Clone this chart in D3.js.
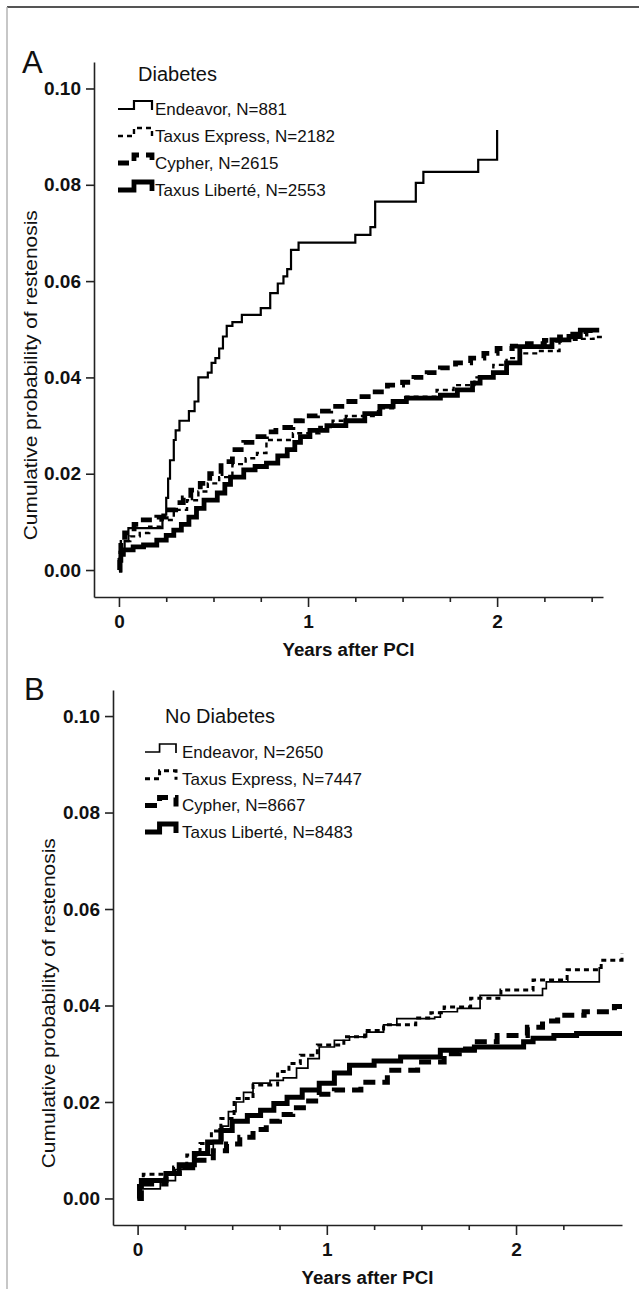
<!DOCTYPE html>
<html><head><meta charset="utf-8">
<script src="https://cdn.jsdelivr.net/npm/d3@7"></script>
<style>body{margin:0;background:#fff}svg{display:block}</style>
</head><body>
<script>
// ---------- DATA ----------
const seriesNames = ["Endeavor", "Taxus Express", "Cypher", "Taxus Liberté"];
const panelTitles = ["Diabetes", "No Diabetes"];
const panelLetters = ["A", "B"];
const nDiabetes = [881, 2182, 2615, 2553];
const nNoDiabetes = [2650, 7447, 8667, 8483];
const yTicks = [0, 0.02, 0.04, 0.06, 0.08, 0.10];
const xMajorTicks = [0, 1, 2];
const xMinorTicksA = [0.25, 0.5, 0.75, 1.25, 1.5, 1.75, 2.25, 2.5];
const xMinorTicksB = [0.25, 0.5, 0.75, 1.25, 1.5, 1.75, 2.25];
const xTitle = "Years after PCI";
const yTitle = "Cumulative probability of restenosis";

// Panel A (Diabetes): [years, cumulative probability]
const endeavorA = [[0,0],[0.01,0.003],[0.03,0.006],[0.05,0.0087],[0.23,0.0115],[0.25,0.015],[0.26,0.019],[0.27,0.0228],[0.29,0.027],[0.30,0.029],[0.32,0.031],[0.37,0.033],[0.40,0.035],[0.42,0.040],[0.47,0.041],[0.49,0.043],[0.51,0.044],[0.53,0.046],[0.55,0.0485],[0.57,0.0507],[0.60,0.0515],[0.65,0.053],[0.75,0.0544],[0.80,0.0575],[0.84,0.0595],[0.87,0.061],[0.89,0.0625],[0.91,0.0665],[0.95,0.068],[1.25,0.0696],[1.33,0.0712],[1.355,0.0765],[1.57,0.0804],[1.61,0.0827],[1.90,0.0852],[2.0,0.0914]];
const taxusExpressA = [[0,0],[0.005,0.003],[0.01,0.006],[0.06,0.007],[0.11,0.0077],[0.16,0.009],[0.22,0.0104],[0.29,0.0125],[0.36,0.0145],[0.42,0.0163],[0.47,0.018],[0.53,0.0193],[0.60,0.022],[0.67,0.0232],[0.73,0.0243],[0.78,0.027],[0.92,0.0284],[1.06,0.0297],[1.13,0.031],[1.20,0.032],[1.37,0.0336],[1.45,0.035],[1.52,0.036],[1.68,0.0374],[1.77,0.0384],[1.88,0.040],[1.98,0.0426],[2.05,0.044],[2.12,0.045],[2.22,0.0455],[2.33,0.0478],[2.42,0.048],[2.51,0.0484],[2.56,0.0486]];
const cypherA = [[0,0],[0.005,0.003],[0.01,0.006],[0.03,0.0077],[0.08,0.0095],[0.11,0.0104],[0.20,0.011],[0.25,0.0125],[0.30,0.014],[0.34,0.015],[0.38,0.0166],[0.43,0.018],[0.48,0.020],[0.54,0.0225],[0.60,0.025],[0.66,0.0265],[0.72,0.0277],[0.78,0.0287],[0.83,0.0296],[0.92,0.031],[0.97,0.032],[1.05,0.033],[1.12,0.034],[1.20,0.035],[1.27,0.036],[1.34,0.037],[1.42,0.0384],[1.50,0.039],[1.56,0.040],[1.63,0.041],[1.70,0.042],[1.78,0.043],[1.86,0.044],[1.93,0.045],[2.0,0.046],[2.08,0.0465],[2.16,0.047],[2.25,0.0477],[2.33,0.0484],[2.40,0.049],[2.47,0.0497],[2.54,0.0497]];
const libertéA = [[0,0],[0.005,0.002],[0.01,0.0035],[0.02,0.0042],[0.075,0.0048],[0.13,0.0052],[0.20,0.0062],[0.25,0.0072],[0.29,0.0083],[0.33,0.0095],[0.37,0.011],[0.41,0.0128],[0.45,0.0145],[0.52,0.016],[0.56,0.0178],[0.59,0.0193],[0.66,0.0208],[0.72,0.0215],[0.78,0.0222],[0.84,0.0237],[0.89,0.025],[0.93,0.0265],[0.96,0.0277],[1.01,0.029],[1.10,0.030],[1.20,0.031],[1.30,0.0325],[1.38,0.034],[1.45,0.035],[1.52,0.0357],[1.70,0.0363],[1.79,0.0374],[1.87,0.0388],[1.91,0.040],[1.98,0.041],[2.05,0.043],[2.12,0.0464],[2.26,0.0464],[2.29,0.0478],[2.38,0.0485],[2.44,0.0498],[2.54,0.0498]];

// Panel B (No Diabetes)
const endeavorB = [[0,0],[0.02,0.002],[0.12,0.0037],[0.20,0.006],[0.30,0.009],[0.40,0.012],[0.45,0.015],[0.48,0.018],[0.52,0.020],[0.56,0.022],[0.61,0.0239],[0.70,0.0245],[0.77,0.025],[0.84,0.027],[0.90,0.029],[0.96,0.0314],[1.04,0.0328],[1.12,0.0335],[1.21,0.0345],[1.30,0.036],[1.37,0.0373],[1.57,0.0376],[1.60,0.0387],[1.69,0.0394],[1.81,0.0421],[2.12,0.0421],[2.14,0.0435],[2.16,0.0449],[2.44,0.048]];
const taxusExpressB = [[0,0],[0.01,0.003],[0.03,0.005],[0.19,0.0065],[0.26,0.009],[0.33,0.0114],[0.39,0.014],[0.44,0.0166],[0.51,0.0207],[0.61,0.0235],[0.74,0.0263],[0.80,0.028],[0.86,0.0297],[0.95,0.0318],[1.09,0.0335],[1.20,0.0348],[1.30,0.036],[1.47,0.0374],[1.55,0.0385],[1.62,0.0397],[1.76,0.0415],[1.92,0.0432],[2.09,0.0453],[2.27,0.0474],[2.45,0.0494],[2.56,0.0508]];
const cypherB = [[0,0],[0.02,0.003],[0.15,0.0052],[0.22,0.0065],[0.29,0.0079],[0.40,0.0099],[0.47,0.0113],[0.54,0.0127],[0.61,0.0143],[0.68,0.016],[0.75,0.0174],[0.82,0.0188],[0.89,0.0202],[0.96,0.0216],[1.04,0.0225],[1.18,0.0241],[1.32,0.0266],[1.48,0.0283],[1.62,0.030],[1.70,0.031],[1.78,0.0325],[1.90,0.0338],[2.06,0.0355],[2.14,0.0368],[2.22,0.038],[2.36,0.0387],[2.52,0.0398],[2.56,0.0398]];
const libertéB = [[0,0],[0.01,0.0025],[0.02,0.0037],[0.15,0.0052],[0.22,0.007],[0.30,0.0093],[0.37,0.0117],[0.44,0.0141],[0.50,0.016],[0.58,0.0172],[0.65,0.0183],[0.72,0.0197],[0.79,0.021],[0.87,0.0225],[0.96,0.0239],[1.04,0.026],[1.12,0.0276],[1.25,0.0285],[1.39,0.0293],[1.60,0.0307],[1.78,0.0314],[1.99,0.0314],[2.04,0.0325],[2.09,0.0332],[2.20,0.0338],[2.32,0.0342],[2.56,0.0342]];

// ---------- LAYOUT / STYLE ----------
const W = 639, H = 1289;
const FONT = "'Liberation Sans', Arial, Helvetica, sans-serif";
const INK = "#111";
const stylesA = [{w:2.2,dash:null},{w:2.4,dash:"5,4"},{w:4.8,dash:"11,7"},{w:4.8,dash:null}];
const stylesB = [{w:1.7,dash:null},{w:3,dash:"5,4"},{w:5,dash:"12,7"},{w:5,dash:null}];

const panels = [
  {letter: panelLetters[0], title: panelTitles[0], n: nDiabetes, data: [endeavorA, taxusExpressA, cypherA, libertéA], styles: stylesA, minor: xMinorTicksA,
   xr: [94, 603], yr: [597, 62], xd: [-0.132, 2.56], yd: [-0.0056, 0.1055],
   letterPos: [22, 73], titlePos: [138, 81], legX: 118, legW: 34, legTextX: 155, legBase: 115, legStep: 27, yLabX: 37},
  {letter: panelLetters[1], title: panelTitles[1], n: nNoDiabetes, data: [endeavorB, taxusExpressB, cypherB, libertéB], styles: stylesB, minor: xMinorTicksB,
   xr: [113, 622], yr: [1225, 690], xd: [-0.130, 2.56], yd: [-0.0055, 0.1054],
   letterPos: [24, 700], titlePos: [165, 723], legX: 145, legW: 31, legTextX: 182, legBase: 758, legStep: 26.7, yLabX: 55}
];

const svg = d3.select("body").append("svg").attr("width", W).attr("height", H)
  .style("font-family", FONT);

// frame
svg.append("line").attr("x1", 7).attr("x2", W).attr("y1", 7).attr("y2", 7).attr("stroke", "#555").attr("stroke-width", 2);
svg.append("line").attr("x1", 7).attr("x2", 7).attr("y1", 7).attr("y2", H).attr("stroke", "#b4b4b4").attr("stroke-width", 1.5);

panels.forEach(p => {
  const x = d3.scaleLinear().domain(p.xd).range(p.xr);
  const y = d3.scaleLinear().domain(p.yd).range(p.yr);
  const g = svg.append("g");

  // Y axis
  g.append("g").attr("transform", `translate(${p.xr[0]},0)`)
    .call(d3.axisLeft(y).tickValues(yTicks).tickFormat(d3.format(".2f")).tickSize(8).tickSizeOuter(0).tickPadding(5));
  // X axis major
  g.append("g").attr("transform", `translate(0,${p.yr[0]})`)
    .call(d3.axisBottom(x).tickValues(xMajorTicks).tickFormat(d3.format("d")).tickSize(10).tickSizeOuter(0).tickPadding(8));
  // X axis minor
  g.append("g").attr("transform", `translate(0,${p.yr[0]})`)
    .call(d3.axisBottom(x).tickValues(p.minor).tickFormat("").tickSize(5).tickSizeOuter(0))
    .select(".domain").remove();
  g.selectAll(".domain").attr("stroke", "#222").attr("stroke-width", 1.6);
  g.selectAll(".tick line").attr("stroke", "#222").attr("stroke-width", 1.6);
  g.selectAll(".tick text").attr("fill", INK).style("font-size", "19px").style("font-weight", "bold").style("font-family", FONT);

  // axis titles
  const xmid = (p.xr[0] + p.xr[1]) / 2;
  g.append("text").attr("x", xmid).attr("y", p.yr[0] + 59).attr("text-anchor", "middle")
    .attr("fill", INK).style("font-size", "18px").style("font-weight", "bold")
    .attr("textLength", 132).attr("lengthAdjust", "spacingAndGlyphs").text(xTitle);
  const ymid = (y(0) + y(0.1)) / 2 + 46;
  g.append("text").attr("transform", `translate(${p.yLabX},${ymid}) rotate(-90)`).attr("text-anchor", "middle")
    .attr("fill", INK).style("font-size", "18px")
    .attr("textLength", 330).attr("lengthAdjust", "spacingAndGlyphs").text(yTitle);

  // panel letter and legend title
  g.append("text").attr("x", p.letterPos[0]).attr("y", p.letterPos[1]).attr("fill", INK)
    .style("font-size", "31px").text(p.letter);
  g.append("text").attr("x", p.titlePos[0]).attr("y", p.titlePos[1]).attr("fill", INK)
    .style("font-size", "20px").text(p.title);

  // curves (thick first, thin on top)
  const line = d3.line().x(d => x(d[0])).y(d => y(d[1])).curve(d3.curveStepAfter);
  [3, 2, 1, 0].forEach(i => {
    const s = p.styles[i];
    g.append("path").datum(p.data[i]).attr("d", line)
      .attr("fill", "none").attr("stroke", "#000").attr("stroke-width", s.w)
      .attr("stroke-dasharray", s.dash).attr("stroke-linejoin", "miter").attr("stroke-linecap", "butt");
  });

  // legend
  const sym = d3.line();
  seriesNames.forEach((name, i) => {
    const base = p.legBase + i * p.legStep;
    const lo = base - 6, hi = base - 14;
    const x0 = p.legX, xm = p.legX + p.legW * 0.47, x1 = p.legX + p.legW;
    const s = p.styles[i];
    g.append("path").attr("d", sym([[x0, lo], [xm, lo], [xm, hi], [x1, hi], [x1, lo + 1]]))
      .attr("fill", "none").attr("stroke", "#000").attr("stroke-width", s.w)
      .attr("stroke-dasharray", s.dash).attr("stroke-linejoin", "miter");
    g.append("text").attr("x", p.legTextX).attr("y", base).attr("fill", INK)
      .style("font-size", "17px").text(`${name}, N=${p.n[i]}`);
  });
});
</script>
</body></html>
